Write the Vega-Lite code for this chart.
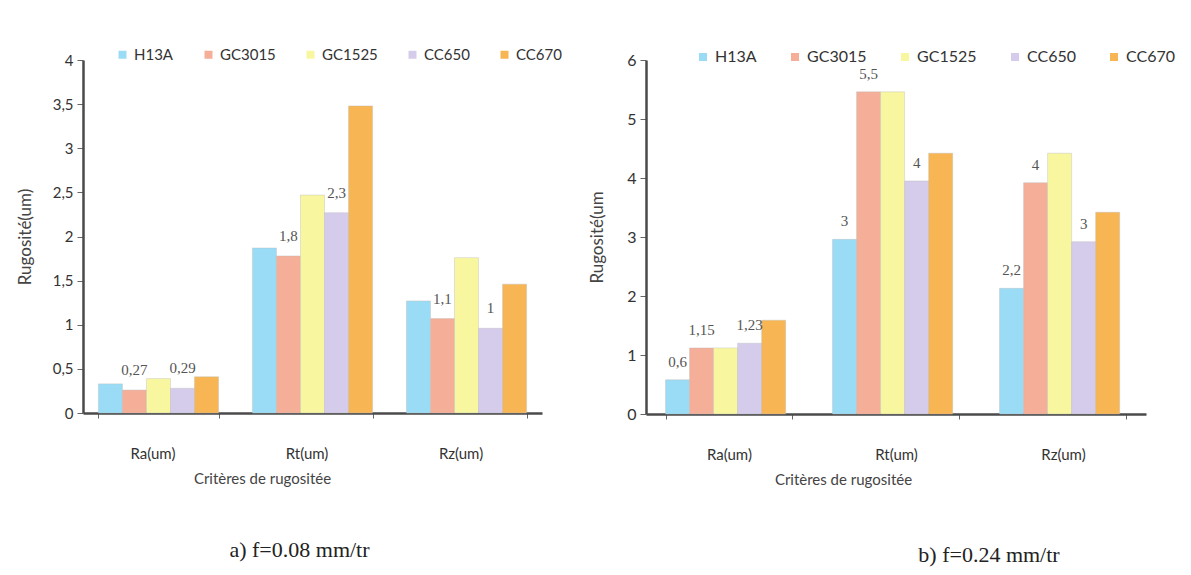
{
  "$schema": "https://vega.github.io/schema/vega-lite/v6.json",
  "padding": {"left": 16, "top": 47, "right": 5, "bottom": 5},
  "background": "white",
  "spacing": 26,
  "config": {
    "locale": {"number": {"decimal": ",", "thousands": " ", "grouping": [3], "currency": ["", " €"]}},
    "view": {"stroke": null},
    "font": "Lato",
    "axis": {"grid": false, "labelColor": "#333", "titleColor": "#444", "titleFontWeight": "normal", "labelFont": "Lato", "titleFont": "Lato", "domainColor": "#4a4a4a", "domainWidth": 2.5, "tickColor": "#666"}
  },
  "datasets": {
    "a": [
      {"crit": "Ra(um)", "tool": "H13A", "v": 0.33, "lbl": ""},
      {"crit": "Ra(um)", "tool": "GC3015", "v": 0.26, "lbl": "0,27"},
      {"crit": "Ra(um)", "tool": "GC1525", "v": 0.39, "lbl": ""},
      {"crit": "Ra(um)", "tool": "CC650", "v": 0.28, "lbl": "0,29"},
      {"crit": "Ra(um)", "tool": "CC670", "v": 0.41, "lbl": ""},
      {"crit": "Rt(um)", "tool": "H13A", "v": 1.87, "lbl": ""},
      {"crit": "Rt(um)", "tool": "GC3015", "v": 1.78, "lbl": "1,8"},
      {"crit": "Rt(um)", "tool": "GC1525", "v": 2.47, "lbl": ""},
      {"crit": "Rt(um)", "tool": "CC650", "v": 2.27, "lbl": "2,3"},
      {"crit": "Rt(um)", "tool": "CC670", "v": 3.48, "lbl": ""},
      {"crit": "Rz(um)", "tool": "H13A", "v": 1.27, "lbl": ""},
      {"crit": "Rz(um)", "tool": "GC3015", "v": 1.07, "lbl": "1,1"},
      {"crit": "Rz(um)", "tool": "GC1525", "v": 1.76, "lbl": ""},
      {"crit": "Rz(um)", "tool": "CC650", "v": 0.96, "lbl": "1"},
      {"crit": "Rz(um)", "tool": "CC670", "v": 1.46, "lbl": ""}
    ],
    "b": [
      {"crit": "Ra(um)", "tool": "H13A", "v": 0.58, "lbl": "0,6"},
      {"crit": "Ra(um)", "tool": "GC3015", "v": 1.12, "lbl": "1,15"},
      {"crit": "Ra(um)", "tool": "GC1525", "v": 1.12, "lbl": ""},
      {"crit": "Ra(um)", "tool": "CC650", "v": 1.2, "lbl": "1,23"},
      {"crit": "Ra(um)", "tool": "CC670", "v": 1.59, "lbl": ""},
      {"crit": "Rt(um)", "tool": "H13A", "v": 2.96, "lbl": "3"},
      {"crit": "Rt(um)", "tool": "GC3015", "v": 5.46, "lbl": "5,5"},
      {"crit": "Rt(um)", "tool": "GC1525", "v": 5.46, "lbl": ""},
      {"crit": "Rt(um)", "tool": "CC650", "v": 3.95, "lbl": "4"},
      {"crit": "Rt(um)", "tool": "CC670", "v": 4.42, "lbl": ""},
      {"crit": "Rz(um)", "tool": "H13A", "v": 2.13, "lbl": "2,2"},
      {"crit": "Rz(um)", "tool": "GC3015", "v": 3.92, "lbl": "4"},
      {"crit": "Rz(um)", "tool": "GC1525", "v": 4.42, "lbl": ""},
      {"crit": "Rz(um)", "tool": "CC650", "v": 2.92, "lbl": "3"},
      {"crit": "Rz(um)", "tool": "CC670", "v": 3.42, "lbl": ""}
    ]
  },
  "hconcat": [
    {
      "width": 459,
      "height": 353,
      "data": {"name": "a"},
      "title": {"text": "a) f=0.08 mm/tr", "orient": "bottom", "anchor": "middle", "font": "Liberation Serif", "fontSize": 22, "fontWeight": "normal", "color": "#222", "offset": 54, "dx": -13},
      "encoding": {
        "x": {"field": "crit", "type": "nominal", "sort": ["Ra(um)", "Rt(um)", "Rz(um)"], "scale": {"paddingInner": 0.22, "paddingOuter": 0.1},
          "axis": {"title": "Critères de rugositée", "labelAngle": 0, "tickBand": "extent", "tickSize": 5, "labelPadding": 28, "labelFontSize": 15, "titleFontSize": 15, "titlePadding": 10, "titleX": 179, "labelOffset": -6}},
        "xOffset": {"field": "tool", "type": "nominal", "sort": ["H13A", "GC3015", "GC1525", "CC650", "CC670"], "scale": {"paddingInner": 0, "paddingOuter": 0}},
        "y": {"field": "v", "type": "quantitative", "scale": {"domain": [0, 4], "nice": false},
          "axis": {"title": "Rugosité(um)", "values": [0, 0.5, 1, 1.5, 2, 2.5, 3, 3.5, 4], "format": "~g", "tickSize": 6, "labelFontSize": 15, "labelPadding": 4, "titleFontSize": 17, "titlePadding": 18}}
      },
      "layer": [
        {
          "mark": {"type": "bar", "stroke": "#bbbbbb", "strokeWidth": 0.4},
          "encoding": {
            "color": {"field": "tool", "type": "nominal", "sort": ["H13A", "GC3015", "GC1525", "CC650", "CC670"],
              "scale": {"domain": ["H13A", "GC3015", "GC1525", "CC650", "CC670"], "range": ["#9adcf5", "#f5ae98", "#f8f7a0", "#d5ccec", "#f7b553"]},
              "legend": {"orient": "none", "legendX": 32, "legendY": -13, "direction": "horizontal", "title": null, "symbolType": "square", "symbolSize": 64, "symbolStrokeWidth": 0, "labelFontSize": 15, "labelFont": "Lato", "labelColor": "#333", "columnPadding": 27, "padding": 0, "labelOffset": 4}}
          }
        },
        {
          "mark": {"type": "text", "font": "Liberation Serif", "fontSize": 15, "color": "#555", "baseline": "middle", "dy": -20},
          "encoding": {"text": {"field": "lbl"}}
        }
      ]
    },
    {
      "width": 500,
      "height": 354,
      "data": {"name": "b"},
      "title": {"text": "b) f=0.24 mm/tr", "orient": "bottom", "anchor": "middle", "font": "Liberation Serif", "fontSize": 22, "fontWeight": "normal", "color": "#222", "offset": 58, "dx": 93},
      "encoding": {
        "x": {"field": "crit", "type": "nominal", "sort": ["Ra(um)", "Rt(um)", "Rz(um)"], "scale": {"paddingInner": 0.24, "paddingOuter": 0.117},
          "axis": {"title": "Critères de rugositée", "labelAngle": 0, "tickBand": "extent", "tickSize": 5, "labelPadding": 28, "labelFontSize": 15, "titleFontSize": 15, "titlePadding": 10, "titleX": 197}},
        "xOffset": {"field": "tool", "type": "nominal", "sort": ["H13A", "GC3015", "GC1525", "CC650", "CC670"], "scale": {"paddingInner": 0, "paddingOuter": 0}},
        "y": {"field": "v", "type": "quantitative", "scale": {"domain": [0, 6], "nice": false},
          "axis": {"title": "Rugosité(um", "values": [0, 1, 2, 3, 4, 5, 6], "format": "~g", "tickSize": 6, "labelFontSize": 16, "labelPadding": 4, "titleFontSize": 17, "titlePadding": 20}}
      },
      "layer": [
        {
          "mark": {"type": "bar", "stroke": "#bbbbbb", "strokeWidth": 0.4},
          "encoding": {
            "color": {"field": "tool", "type": "nominal", "sort": ["H13A", "GC3015", "GC1525", "CC650", "CC670"],
              "scale": {"domain": ["H13A", "GC3015", "GC1525", "CC650", "CC670"], "range": ["#9adcf5", "#f5ae98", "#f8f7a0", "#d5ccec", "#f7b553"]},
              "legend": {"orient": "none", "legendX": 49, "legendY": -11, "direction": "horizontal", "title": null, "symbolType": "square", "symbolSize": 64, "symbolStrokeWidth": 0, "labelFontSize": 16, "labelFont": "Lato", "labelColor": "#333", "columnPadding": 30, "padding": 0, "labelOffset": 4}}
          }
        },
        {
          "mark": {"type": "text", "font": "Liberation Serif", "fontSize": 15, "color": "#555", "baseline": "middle", "dy": -18},
          "encoding": {"text": {"field": "lbl"}}
        }
      ]
    }
  ],
  "resolve": {"scale": {"color": "independent"}, "legend": {"color": "independent"}}
}
